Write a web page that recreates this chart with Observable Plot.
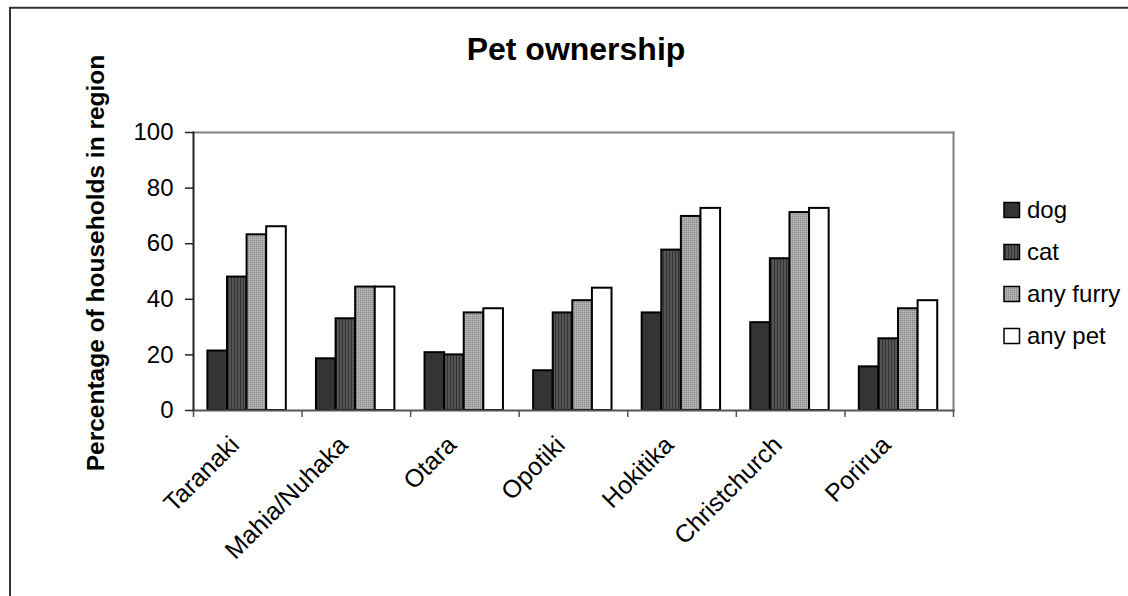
<!DOCTYPE html>
<html>
<head>
<meta charset="utf-8">
<script src="https://cdn.jsdelivr.net/npm/d3@7"></script>
<script src="https://cdn.jsdelivr.net/npm/@observablehq/plot@0.6"></script>
<style>
  html, body { margin: 0; padding: 0; background: #fff; }
  #chart svg { display: block; }
</style>
</head>
<body>
<div id="chart"></div>
<script>
// ---- data ----
const regions = ["Taranaki", "Mahia/Nuhaka", "Otara", "Opotiki", "Hokitika", "Christchurch", "Porirua"];
const series = ["dog", "cat", "any furry", "any pet"];
const dog      = [21.4, 18.6, 20.8, 14.3, 35.1, 31.6, 15.7];
const cat      = [48.0, 33.0, 20.0, 35.1, 57.7, 54.6, 25.8];
const anyFurry = [63.2, 44.4, 35.1, 39.5, 69.8, 71.2, 36.6];
const anyPet   = [66.1, 44.4, 36.6, 44.0, 72.7, 72.7, 39.5];
const yTicks = [0, 20, 40, 60, 80, 100];
const title = "Pet ownership";
const yLabel = "Percentage of households in region";

const valuesBySeries = [dog, cat, anyFurry, anyPet];
const rows = regions.flatMap((r, i) => series.map((s, j) => ({region: r, series: s, value: valuesBySeries[j][i]})));

// ---- layout / style ----
const W = 1128, H = 596;
const mL = 193, mR = 175, mT = 132, mB = 186;
const bw = (W - mL - mR) / regions.length;
const padL = 14.4, barW = 19.6;
const fills = ["url(#pDog)", "url(#pCat)", "url(#pFurry)", "#ffffff"];
const font = "'Liberation Sans', Arial, Helvetica, sans-serif";

const barMarks = series.map((s, j) => Plot.barY(rows.filter(d => d.series === s), {
  x: "region", y: "value",
  fill: fills[j], stroke: "#000", strokeWidth: 2,
  insetLeft: padL + j * barW,
  insetRight: bw - padL - (j + 1) * barW
}));

const svg = Plot.plot({
  width: W, height: H,
  marginLeft: mL, marginRight: mR, marginTop: mT, marginBottom: mB,
  style: {fontFamily: font, fontSize: "24px", color: "#000", background: "#fff"},
  x: {domain: regions, padding: 0, round: false, label: null},
  y: {domain: [0, 100], label: null},
  marks: [
    Plot.frame({anchor: "top", stroke: "#808080", strokeWidth: 2}),
    Plot.frame({anchor: "right", stroke: "#808080", strokeWidth: 2}),
    ...barMarks,
    Plot.frame({anchor: "bottom", stroke: "#555", strokeWidth: 2}),
    Plot.frame({anchor: "left", stroke: "#222", strokeWidth: 2}),
    Plot.axisY({ticks: yTicks, tickSize: 8, tickPadding: 12, stroke: "#222", strokeWidth: 1.5, fontSize: 24, label: null}),
    Plot.axisX({tickSize: 7, tickFormat: () => "", dx: -bw / 2, stroke: "#555", strokeWidth: 1.5, label: null}),
    Plot.axisX([regions[regions.length - 1]], {tickSize: 7, tickFormat: () => "", dx: bw / 2, stroke: "#555", strokeWidth: 1.5, label: null}),
    Plot.text(regions, {x: d => d, frameAnchor: "bottom", rotate: -45, textAnchor: "end", dx: -7, dy: 36, fontSize: 25, fill: "#000"})
  ]
});

const s = d3.select(svg);
const defs = s.insert("defs", ":first-child");
// dog: dark solid with faint texture
const pd = defs.append("pattern").attr("id", "pDog").attr("patternUnits", "userSpaceOnUse").attr("width", 2).attr("height", 2);
pd.append("rect").attr("width", 2).attr("height", 2).attr("fill", "#333");
pd.append("rect").attr("width", 1).attr("height", 1).attr("fill", "#3a3a3a");
// cat: vertical stripes
const pc = defs.append("pattern").attr("id", "pCat").attr("patternUnits", "userSpaceOnUse").attr("width", 3).attr("height", 3);
pc.append("rect").attr("width", 3).attr("height", 3).attr("fill", "#555");
pc.append("rect").attr("width", 1).attr("height", 3).attr("fill", "#333");
// any furry: fine dots
const pf = defs.append("pattern").attr("id", "pFurry").attr("patternUnits", "userSpaceOnUse").attr("width", 2).attr("height", 2);
pf.append("rect").attr("width", 2).attr("height", 2).attr("fill", "#a8a8a8");
pf.append("rect").attr("width", 1).attr("height", 1).attr("fill", "#8a8a8a");
pf.append("rect").attr("x", 1).attr("y", 1).attr("width", 1).attr("height", 1).attr("fill", "#b8b8b8");

// outer chart border (left and top edges visible)
s.append("path").attr("d", `M10,${H} V7.7 H${W}`).attr("fill", "none").attr("stroke", "#333").attr("stroke-width", 2);

// title
s.append("text").attr("x", 576).attr("y", 60).attr("text-anchor", "middle")
  .attr("font-family", font).attr("font-size", 32).attr("font-weight", "bold").attr("fill", "#000").text(title);

// y axis label
s.append("text").attr("transform", "translate(104,263) rotate(-90)").attr("text-anchor", "middle")
  .attr("font-family", font).attr("font-size", 24.5).attr("font-weight", "bold").attr("fill", "#000").text(yLabel);

// legend
const lg = s.append("g").attr("font-family", font).attr("font-size", 24).attr("text-anchor", "start");
series.forEach((name, j) => {
  const cy = 210 + j * 42;
  lg.append("rect").attr("x", 1004).attr("y", cy - 7.5).attr("width", 15.5).attr("height", 15)
    .attr("fill", fills[j]).attr("stroke", "#000").attr("stroke-width", 1.5);
  lg.append("text").attr("x", 1027).attr("y", cy + 8).attr("text-anchor", "start").attr("fill", "#000").text(name);
});

document.getElementById("chart").appendChild(svg);
</script>
</body>
</html>
